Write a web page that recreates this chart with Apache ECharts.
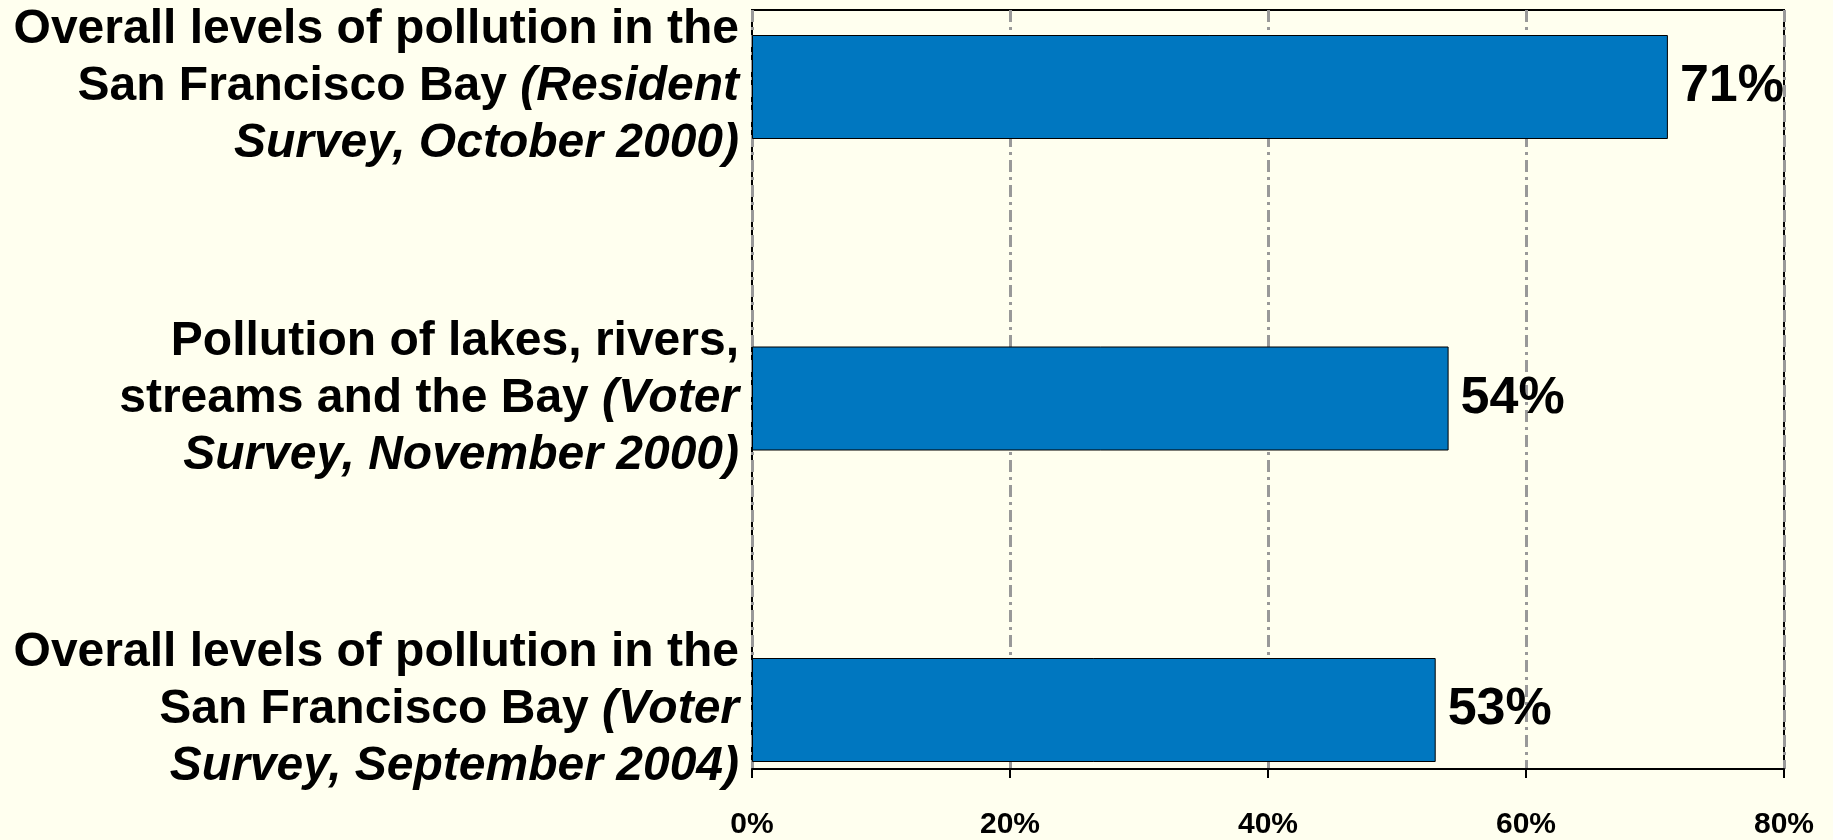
<!DOCTYPE html>
<html>
<head>
<meta charset="utf-8">
<script src="https://cdn.jsdelivr.net/npm/echarts@6/dist/echarts.min.js"></script>
<style>
  html, body { margin: 0; padding: 0; background: #FFFFEF; }
  #demo { width: 1833px; height: 840px; }
</style>
</head>
<body>
<div id="demo"></div>
<script>
// 类目：正常部分 + 斜体部分（括号里的调查来源）
var catMain = [
    'Overall levels of pollution in the\nSan Francisco Bay ',
    'Pollution of lakes, rivers,\nstreams and the Bay ',
    'Overall levels of pollution in the\nSan Francisco Bay '
];
var catItalic = [
    '(Resident\nSurvey, October 2000)',
    '(Voter\nSurvey, November 2000)',
    '(Voter\nSurvey, September 2004)'
];
var values = [71, 54, 53];
var tickValues = [0, 20, 40, 60, 80];

// 把每个类目拼成 rich 文本
var categories = [];
for (var i = 0; i < catMain.length; i++) {
    categories.push(i);
}
function labelText(idx) {
    var main = catMain[idx].split('\n');
    var ital = catItalic[idx].split('\n');
    // 第一行纯正体，第二行正体+斜体，第三行纯斜体
    var lines = [];
    lines.push('{b|' + main[0] + '}');
    lines.push('{b|' + main[1] + '}{i|' + ital[0] + '}');
    lines.push('{i|' + ital[1] + '}');
    return lines.join('\n');
}

var chartDom = document.getElementById('demo');
var myChart = echarts.init(chartDom);
var font = 'Liberation Sans, Arial, sans-serif';
var option = {
    backgroundColor: '#FFFFEF',
    grid: [
        // 外框：坐标轴、网格线
        { left: 752, right: 49, top: 10, bottom: 53, show: true, borderColor: '#000', borderWidth: 2, backgroundColor: 'transparent' },
        // 内部：柱子所在区域
        { left: 752, right: 49, top: 87, bottom: 130 }
    ],
    xAxis: [
        {
            gridIndex: 0,
            type: 'value',
            min: tickValues[0],
            max: tickValues[tickValues.length - 1],
            interval: 20,
            axisLine: { show: true, lineStyle: { color: '#000', width: 2 } },
            axisTick: { show: true, length: 9, lineStyle: { color: '#000', width: 2 } },
            axisLabel: {
                formatter: '{value}%',
                fontFamily: font,
                fontWeight: 'bold',
                fontSize: 30,
                color: '#000',
                margin: 41
            },
            splitLine: {
                show: true,
                lineStyle: { color: '#999999', width: 3, type: [12, 5, 3, 5] }
            }
        },
        {
            gridIndex: 1,
            type: 'value',
            min: tickValues[0],
            max: tickValues[tickValues.length - 1],
            show: false
        }
    ],
    yAxis: [
        { gridIndex: 0, type: 'value', show: false },
        {
            gridIndex: 1,
            type: 'category',
            inverse: true,
            boundaryGap: false,
            data: categories,
            axisLine: { show: false },
            axisTick: { show: false },
            splitLine: { show: false },
            axisLabel: {
                margin: 13,
                align: 'right',
                formatter: function (v, idx) { return labelText(idx); },
                rich: {
                    b: { fontFamily: font, fontWeight: 'bold', fontSize: 48, lineHeight: 57, color: '#000', align: 'right' },
                    i: { fontFamily: font, fontWeight: 'bold', fontStyle: 'italic', fontSize: 48, lineHeight: 57, color: '#000', align: 'right' }
                }
            }
        }
    ],
    series: [{
        type: 'bar',
        xAxisIndex: 1,
        yAxisIndex: 1,
        data: values,
        barWidth: 104,
        itemStyle: { color: '#0077C0', borderColor: '#000', borderWidth: 1 },
        label: {
            show: true,
            position: 'right',
            distance: 12,
            formatter: '{c}%',
            fontFamily: font,
            fontWeight: 'bold',
            fontSize: 52,
            color: '#000'
        }
    }]
};
option && myChart.setOption(option);
</script>
</body>
</html>
